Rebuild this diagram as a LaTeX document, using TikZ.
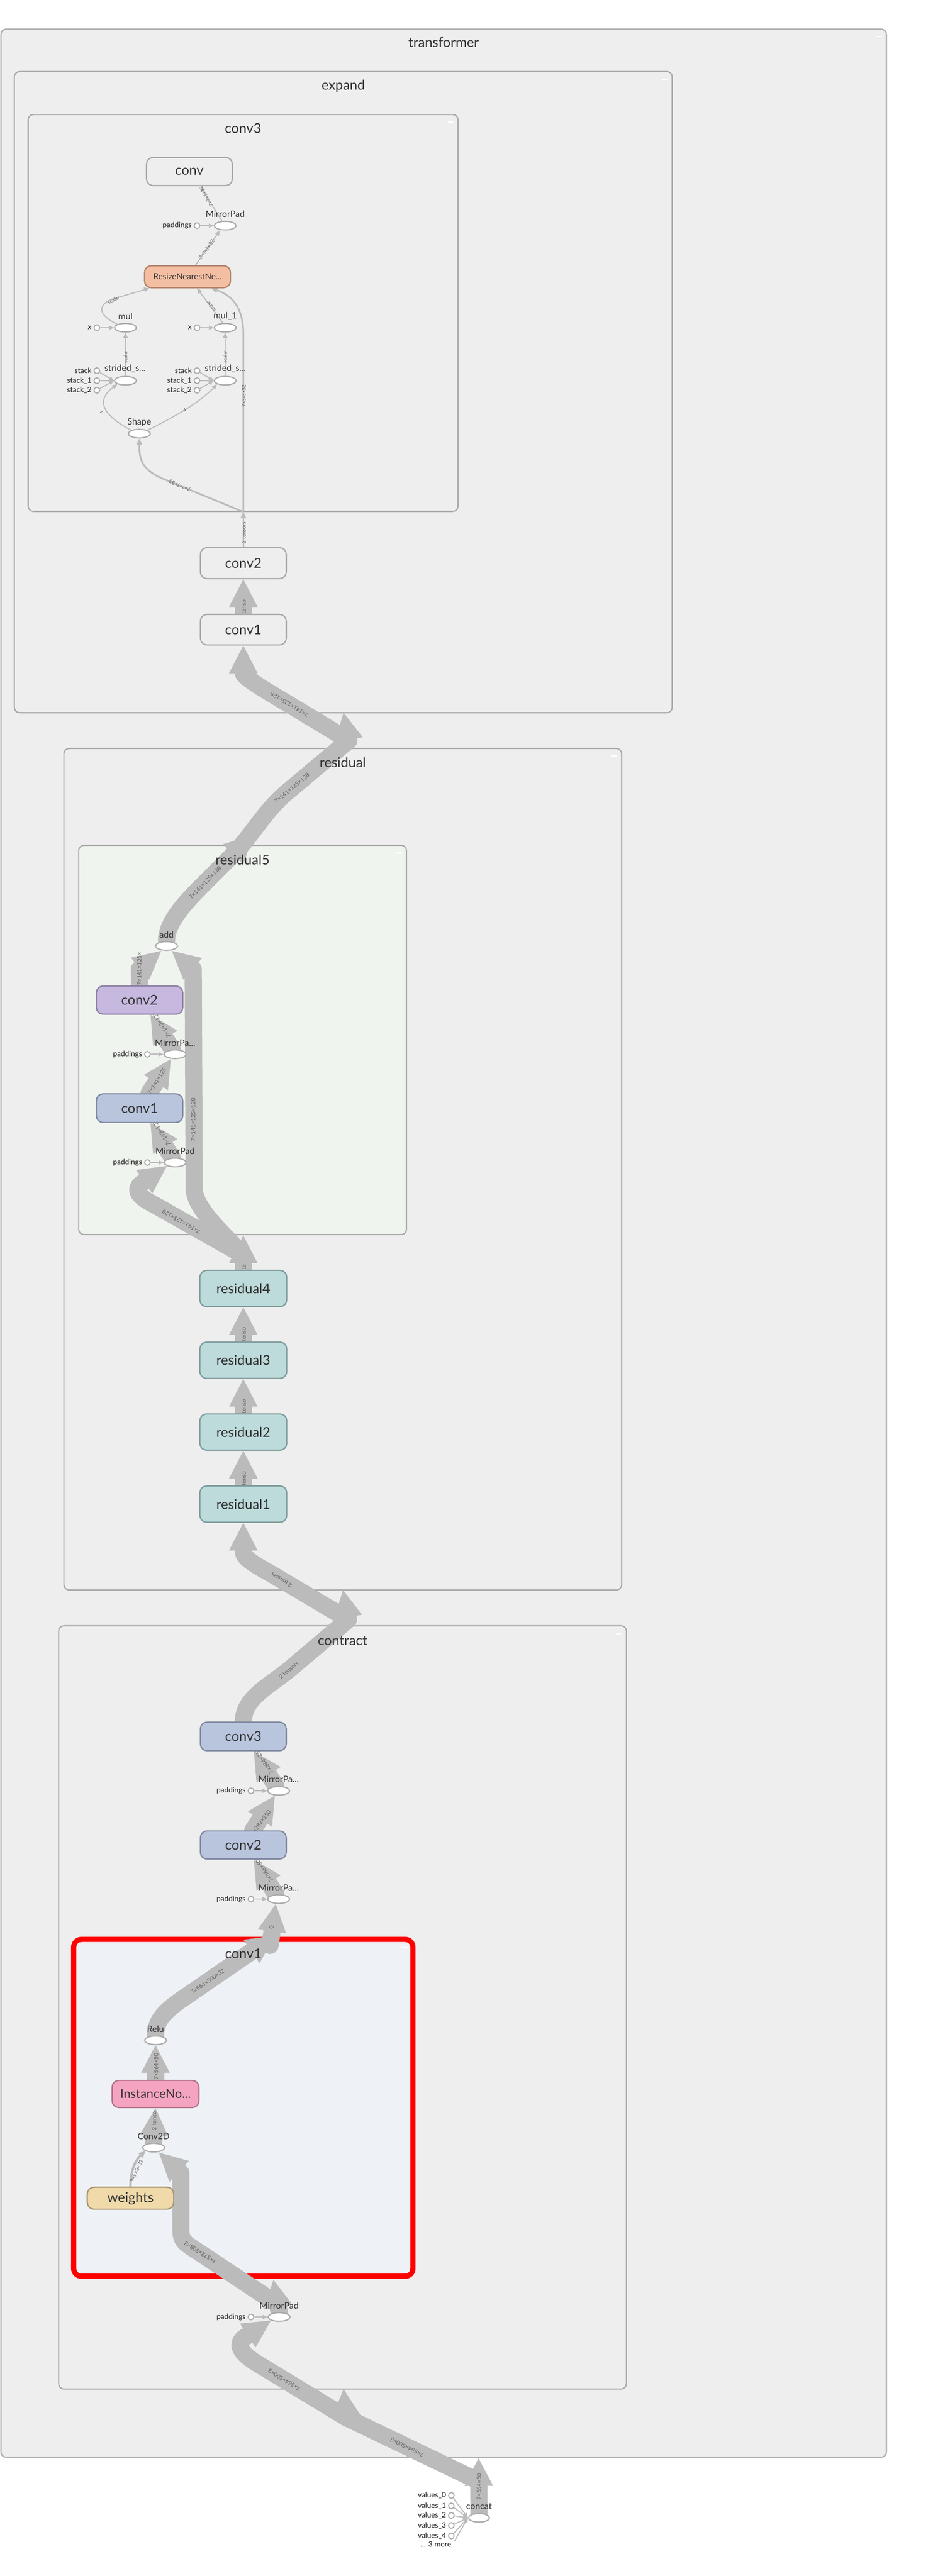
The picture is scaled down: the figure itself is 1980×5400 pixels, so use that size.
\documentclass[tikz,border=0pt]{standalone}
\usepackage{fontspec}
\setmainfont{Lato}
\usetikzlibrary{arrows.meta,shapes.geometric}
\pgfdeclarelayer{grp}
\pgfdeclarelayer{edges}
\pgfdeclarelayer{labels}
\pgfsetlayers{grp,edges,labels,main}
\definecolor{grpfill}{HTML}{EEEEEE}
\definecolor{grpline}{HTML}{A8A8A8}
\definecolor{resfill}{HTML}{F0F4EE}
\definecolor{redfill}{HTML}{EEF1F5}
\definecolor{redline}{HTML}{FF0000}
\definecolor{edgecol}{HTML}{BBBBBB}
\definecolor{txt}{HTML}{333333}
\definecolor{labtxt}{HTML}{5E5E5E}
\definecolor{inptxt}{HTML}{1E1E1E}
\definecolor{ellline}{HTML}{ABABAB}
\definecolor{tealfill}{HTML}{BEDBDB}
\definecolor{tealline}{HTML}{7F9C9C}
\definecolor{bluefill}{HTML}{B9C5DD}
\definecolor{blueline}{HTML}{7F8AA1}
\definecolor{purfill}{HTML}{C7B8E0}
\definecolor{purline}{HTML}{8C7FA3}
\definecolor{pinkfill}{HTML}{F4A4C0}
\definecolor{pinkline}{HTML}{B07286}
\definecolor{wtfill}{HTML}{F0DAAA}
\definecolor{wtline}{HTML}{A89470}
\definecolor{rsfill}{HTML}{F4BEA2}
\definecolor{rsline}{HTML}{B08068}
\begin{document}
\begin{tikzpicture}[x=1pt,y=-1pt,
  grp/.style={draw=grpline, line width=2.5pt, fill=grpfill, rounded corners=11pt, inner sep=0pt, outer sep=0pt},
  grptitle/.style={text=txt, font=\fontsize{28.5}{30}\selectfont, inner sep=0pt},
  opbox/.style={draw=grpline, line width=2.6pt, fill=grpfill, rounded corners=14pt, minimum width=180pt, inner sep=0pt, text=txt, font=\fontsize{28.5}{30}\selectfont},
  opnode/.style={ellipse, draw=ellline, fill=white, line width=2.5pt, minimum width=46pt, minimum height=18pt, inner sep=0pt},
  oplab/.style={text=txt, font=\fontsize{18.5}{20}\selectfont, inner sep=0pt},
  innode/.style={circle, draw=ellline, fill=white, line width=2.2pt, minimum size=12pt, inner sep=0pt},
  inlab/.style={text=inptxt, font=\fontsize{15.5}{17}\selectfont, inner sep=0pt, anchor=east},
  elab/.style={text=labtxt, font=\fontsize{12}{12}\selectfont, inner sep=0pt},
  elabs/.style={text=labtxt, font=\fontsize{11}{11}\selectfont, inner sep=0pt},
  bandline/.style={draw=edgecol, line width=36pt, line join=round, line cap=round},
  bandarrow/.style={bandline, -{Triangle[length=58pt,width=60pt,line width=0pt]}},
  medarrow/.style={draw=edgecol, line width=3.5pt, -{Triangle[length=13pt,width=12pt,line width=0pt]}},
  thinarrow/.style={draw=edgecol, line width=2.2pt, -{Triangle[length=11pt,width=10pt,line width=0pt]}},
  inarrow/.style={draw=edgecol, line width=2.2pt, -{Triangle[length=10pt,width=9pt,line width=0pt]}},
  wtarrow/.style={draw=edgecol, line width=5pt, -{Triangle[length=14pt,width=14pt,line width=0pt]}},
  collapsemark/.style={draw=white, line width=2.5pt}
]
\useasboundingbox (0,0) rectangle (1980,5400);

% ---------------- groups ----------------
\begin{pgfonlayer}{grp}
\fill[white] (0,0) rectangle (1980,5400);
\node[grp, minimum width=1856pt, minimum height=5090pt] (transformer) at (930,2606) {};
\node[grp, minimum width=1379pt, minimum height=1344pt] (expand) at (719.5,822) {};
\node[grp, minimum width=901pt, minimum height=832pt] (conv3g) at (509.5,656) {};
\node[grp, minimum width=1169pt, minimum height=1764pt] (residual) at (718.5,2451) {};
\node[grp, fill=resfill, minimum width=687pt, minimum height=816pt] (residual5) at (508.5,2180) {};
\node[grp, minimum width=1190pt, minimum height=1600pt] (contract) at (718,4208) {};
\node[grp, fill=redfill, draw=redline, line width=11pt, rounded corners=16pt, minimum width=711pt, minimum height=706pt] (conv1g) at (510,4418.5) {};
\draw[collapsemark] (1836,77) -- (1849,77);
\draw[collapsemark] (1387,166) -- (1400,166);
\draw[collapsemark] (938,256) -- (951,256);
\draw[collapsemark] (1281,1585) -- (1294,1585);
\draw[collapsemark] (830,1788) -- (843,1788);
\draw[collapsemark] (1291,3424) -- (1304,3424);
\draw[collapsemark] (840,4082) -- (854,4082);
\end{pgfonlayer}

% ---------------- nodes: expand / conv3 ----------------
\node[opbox, minimum height=59pt] (conv) at (397,359.5) {conv};
\node[opbox, fill=rsfill, draw=rsline, minimum height=46pt, font=\fontsize{17.5}{20}\selectfont] (resize) at (393,580) {ResizeNearestNe...};
\node[opnode] (mpad3) at (472,473) {};
\node[opnode] (mul) at (263,687) {};
\node[opnode] (mul1) at (472,687) {};
\node[opnode] (ss) at (263,798) {};
\node[opnode] (ss1) at (472,798) {};
\node[opnode] (shape) at (292,909) {};
\node[oplab] (lmpad3) at (472,449) {MirrorPad};
\node[oplab] (lmul) at (263,663) {mul};
\node[oplab] (lmul1) at (472,663) {mul\_1};
\node[oplab] (lss) at (262,773) {strided\_s...};
\node[oplab] (lss1) at (472,773) {strided\_s...};
\node[oplab] (lshape) at (292,885) {Shape};
\node[innode] (pad3) at (413,473) {};
\node[inlab] (lpad3) at (402,473) {paddings};
\node[innode] (xm) at (203,687) {};
\node[inlab] (lxm) at (192,687) {x};
\node[innode] (xm1) at (413,687) {};
\node[inlab] (lxm1) at (402,687) {x};
\node[innode] (stA) at (203,777) {};
\node[innode] (stB) at (203,798) {};
\node[innode] (stC) at (203,818) {};
\node[inlab] (lstA) at (192,777) {stack};
\node[inlab] (lstB) at (192,798) {stack\_1};
\node[inlab] (lstC) at (192,818) {stack\_2};
\node[innode] (stD) at (413,777) {};
\node[innode] (stE) at (413,798) {};
\node[innode] (stF) at (413,818) {};
\node[inlab] (lstD) at (402,777) {stack};
\node[inlab] (lstE) at (402,798) {stack\_1};
\node[inlab] (lstF) at (402,818) {stack\_2};
\node[opbox, minimum height=65pt] (conv2e) at (510,1180.5) {conv2};
\node[opbox, minimum height=64pt] (conv1e) at (510,1320) {conv1};

% ---------------- nodes: residual ----------------
\node[opnode] (add) at (349,1983) {};
\node[oplab] (ladd) at (349,1959) {add};
\node[opbox, fill=purfill, draw=purline, minimum width=181pt, minimum height=59pt] (r5conv2) at (292.5,2096.5) {conv2};
\node[opnode] (r5mp1) at (367,2210) {};
\node[oplab] (lr5mp1) at (367,2186) {MirrorPa...};
\node[innode] (r5pad1) at (309,2210) {};
\node[inlab] (lr5pad1) at (298,2210) {paddings};
\node[opbox, fill=bluefill, draw=blueline, minimum width=181pt, minimum height=60pt] (r5conv1) at (292.5,2323) {conv1};
\node[opnode] (r5mp) at (367,2437) {};
\node[oplab] (lr5mp) at (367,2413) {MirrorPad};
\node[innode] (r5pad) at (309,2437) {};
\node[inlab] (lr5pad) at (298,2437) {paddings};
\node[opbox, fill=tealfill, draw=tealline, minimum width=182pt, minimum height=76pt] (residual4) at (510,2701) {residual4};
\node[opbox, fill=tealfill, draw=tealline, minimum width=182pt, minimum height=76pt] (residual3) at (510,2851.5) {residual3};
\node[opbox, fill=tealfill, draw=tealline, minimum width=182pt, minimum height=76pt] (residual2) at (510,3002) {residual2};
\node[opbox, fill=tealfill, draw=tealline, minimum width=182pt, minimum height=76pt] (residual1) at (510,3153) {residual1};

% ---------------- nodes: contract ----------------
\node[opbox, fill=bluefill, draw=blueline, minimum height=60pt] (cconv3) at (510,3640) {conv3};
\node[opnode] (cmp2) at (584,3754) {};
\node[oplab] (lcmp2) at (584,3730) {MirrorPa...};
\node[innode] (cpad2) at (526,3754) {};
\node[inlab] (lcpad2) at (515,3754) {paddings};
\node[opbox, fill=bluefill, draw=blueline, minimum height=59pt] (cconv2) at (510,3867.5) {conv2};
\node[opnode] (cmp1) at (584,3981) {};
\node[oplab] (lcmp1) at (584,3957) {MirrorPa...};
\node[innode] (cpad1) at (526,3981) {};
\node[inlab] (lcpad1) at (515,3981) {paddings};
\node[opnode] (relu) at (326,4277) {};
\node[oplab] (lrelu) at (326,4253) {Relu};
\node[opbox, fill=pinkfill, draw=pinkline, minimum width=182pt, minimum height=57pt, font=\fontsize{26}{28}\selectfont] (inorm) at (326,4389.5) {InstanceNo...};
\node[opnode] (conv2d) at (322,4502) {};
\node[oplab] (lconv2d) at (322,4478) {Conv2D};
\node[opbox, fill=wtfill, draw=wtline, minimum width=181pt, minimum height=46pt] (weights) at (273.5,4608) {weights};
\node[opnode] (cmp) at (585,4857) {};
\node[oplab] (lcmp) at (585,4833) {MirrorPad};
\node[innode] (cpad) at (526,4857) {};
\node[inlab] (lcpad) at (515,4857) {paddings};

% ---------------- nodes: concat ----------------
\node[opnode, minimum width=44pt] (concat) at (1004,5278) {};
\node[oplab] (lconcat) at (1004,5254) {concat};
\node[innode] (v0) at (946,5231) {};
\node[innode] (v1) at (946,5253) {};
\node[innode] (v2) at (946,5273) {};
\node[innode] (v3) at (946,5294) {};
\node[innode] (v4) at (946,5316) {};
\node[inlab] (lv0) at (935,5231) {values\_0};
\node[inlab] (lv1) at (935,5253) {values\_1};
\node[inlab] (lv2) at (935,5273) {values\_2};
\node[inlab] (lv3) at (935,5294) {values\_3};
\node[inlab] (lv4) at (935,5316) {values\_4};
\node[inlab] (lvmore) at (946,5333) {... 3 more};
\coordinate (vmore) at (953,5326);

% ---------------- coordinates at group borders ----------------
\coordinate (b3) at (510,1073);
\coordinate (T1) at (720,1494);
\coordinate (J1) at (731,1552);
\coordinate (K) at (530,1750);
\coordinate (Kb) at (489,1791);
\coordinate (T3) at (510,2590);
\coordinate (J3) at (505,2628);
\coordinate (T2) at (719,3333);
\coordinate (J2) at (730,3395);
\coordinate (T7) at (575,4058);
\coordinate (J7) at (566,4078);
\coordinate (T6) at (573,4779);
\coordinate (J6) at (584,4832);
\coordinate (T5) at (720,5008);
\coordinate (J5) at (726,5068);
\coordinate (T4) at (1003,5153);
\coordinate (J4) at (1001,5200);

% ---------------- edges ----------------
\begin{pgfonlayer}{edges}
% conv3 internals
\draw[thinarrow] ([xshift=-7pt]mpad3.north) -- ([xshift=23pt]conv.south);
\draw[thinarrow] ([xshift=17pt]resize.north) -- ([xshift=-11pt]mpad3.south);
\draw[thinarrow] (mul.north west) .. controls (215,665) and (198,645) .. (232,628) -- ([xshift=-80pt]resize.south);
\draw[thinarrow] ([xshift=-5pt]mul1.north) -- ([xshift=20pt]resize.south);
\draw[thinarrow] (ss.north) -- (mul.south);
\draw[thinarrow] (ss1.north) -- (mul1.south);
\draw[thinarrow] (shape.north west) .. controls (215,870) and (200,840) .. (ss.south west);
\draw[thinarrow] (shape.north east) .. controls (370,872) and (420,842) .. (ss1.south west);
\draw[medarrow] (b3) -- (340,1003) .. controls (298,984) and (292,965) .. (shape.south);
\draw[medarrow] (b3) -- (510,700) .. controls (510,640) and (482,618) .. ([xshift=50pt]resize.south);
\draw[inarrow] (pad3) -- (mpad3.west);
\draw[inarrow] (xm) -- (mul.west);
\draw[inarrow] (xm1) -- (mul1.west);
\draw[inarrow] (stA) -- (ss.west);
\draw[inarrow] (stB) -- (ss.west);
\draw[inarrow] (stC) -- (ss.west);
\draw[inarrow] (stD) -- (ss1.west);
\draw[inarrow] (stE) -- (ss1.west);
\draw[inarrow] (stF) -- (ss1.west);
% expand
\draw[medarrow] (conv2e.north) -- (b3);
\draw[bandarrow] (conv1e.north) -- (conv2e.south);
\draw[bandarrow] (add.north) .. controls (349,1935) and (385,1895) .. (423,1857) -- (K);
\draw[bandarrow] (Kb) .. controls (525,1755) and (555,1700) .. (600,1662) -- (J1) -- (565,1452) .. controls (515,1422) and (510,1414) .. (510,1411) -- (conv1e.south);
\draw[bandarrow] (J1) -- (T1);
% residual5
\draw[bandarrow] (residual4.north) -- (T3);
\draw[bandarrow] (J3) -- (310,2518) .. controls (285,2503) and (282,2490) .. (301,2478) -- (r5mp.south west);
\draw[bandarrow] (J3) .. controls (470,2585) and (407,2535) .. (407,2490) -- (405,2032) -- ([xshift=11pt]add.south);
\draw[bandarrow] (r5conv2.north) -- (292,2032) -- ([xshift=-11pt]add.south);
\draw[bandarrow] ([xshift=-6pt]r5mp.north) -- ([xshift=23pt]r5conv1.south);
\draw[bandarrow] ([xshift=20pt]r5conv1.north) -- ([xshift=-9pt]r5mp1.south);
\draw[bandarrow] ([xshift=-6pt]r5mp1.north) -- ([xshift=23pt]r5conv2.south);
\draw[inarrow] (r5pad1) -- (r5mp1.west);
\draw[inarrow] (r5pad) -- (r5mp.west);
% residual chain
\draw[bandarrow] (residual3.north) -- (residual4.south);
\draw[bandarrow] (residual2.north) -- (residual3.south);
\draw[bandarrow] (residual1.north) -- (residual2.south);
\draw[bandarrow] (J2) -- (570,3300) .. controls (515,3270) and (510,3262) .. (510,3250) -- (residual1.south);
\draw[bandarrow] (J2) -- (T2);
% contract
\draw[bandline] (cconv3.north) .. controls (511,3560) and (560,3537) .. (605,3501) -- (J2);
\draw[bandarrow] ([xshift=-6pt]cmp2.north) -- ([xshift=22pt]cconv3.south);
\draw[bandarrow] ([xshift=20pt]cconv2.north) -- ([xshift=-8pt]cmp2.south);
\draw[bandarrow] ([xshift=-6pt]cmp1.north) -- ([xshift=22pt]cconv2.south);
\draw[inarrow] (cpad2) -- (cmp2.west);
\draw[inarrow] (cpad1) -- (cmp1.west);
\draw[bandarrow] (relu.north) .. controls (326,4235) and (345,4215) .. (390,4185) -- (T7);
\draw[bandarrow] (J7) -- ([xshift=-6pt]cmp1.south);
\draw[bandarrow] (inorm.north) -- (relu.south);
\draw[bandarrow] (conv2d.north) -- (inorm.south);
\draw[wtarrow] (weights.north) .. controls (273,4550) and (285,4527) .. (conv2d.south west);
\draw[bandarrow] (cmp.north) -- (T6);
\draw[bandarrow] (J6) -- (400,4710) .. controls (380,4697) and (379,4690) .. (379,4665) -- (379,4555) -- ([xshift=11pt]conv2d.south);
\draw[inarrow] (cpad) -- (cmp.west);
% concat
\draw[bandarrow] (concat.north) -- (T4);
\draw[bandline] (J4) -- (J5);
\draw[bandarrow] (J5) -- (T5);
\draw[bandarrow] (J5) -- (540,4955) .. controls (495,4928) and (495,4908) .. (519,4896) -- (cmp.south west);
\draw[inarrow] (v0) -- (concat.west);
\draw[inarrow] (v1) -- (concat.west);
\draw[inarrow] (v2) -- (concat.west);
\draw[inarrow] (v3) -- (concat.west);
\draw[inarrow] (v4) -- (concat.west);
\draw[inarrow] (vmore) -- (concat.west);
\end{pgfonlayer}

% ---------------- edge labels and group titles ----------------
\begin{pgfonlayer}{labels}
\node[elabs, rotate=121] (e1) at (432,412) {7×?×?×32};
\node[elabs, rotate=55] (e2) at (433,523) {7×?×?×32};
\node[elabs, font=\fontsize{10}{10}\selectfont, rotate=25] (e3) at (238,629) {scalar};
\node[elabs, font=\fontsize{10}{10}\selectfont, rotate=127] (e4) at (443,643) {scalar};
\node[elabs, font=\fontsize{10}{10}\selectfont, rotate=90] (e5) at (263,748) {scalar};
\node[elabs, font=\fontsize{10}{10}\selectfont, rotate=90] (e6) at (472,748) {scalar};
\node[elabs, rotate=115] (e7) at (214,864) {4};
\node[elabs, rotate=32] (e8) at (387,860) {4};
\node[elabs, rotate=157] (e9) at (377,1018) {7×?×?×32};
\node[elabs, rotate=90] (e10) at (511,830) {7×?×?×32};
\node[elabs, rotate=90] (e11) at (511,1117) {2 tensors};
\node[elab, rotate=90, anchor=west] (e12) at (511,1297) {2 tenso};
\node[elab, rotate=149] (e13) at (607,1477) {7×141×125×128};
\node[elab, rotate=40] (e14) at (612,1652) {7×141×125×128};
\node[elab, rotate=46] (e15) at (430,1850) {7×141×125×128};
\node[elab, rotate=90, anchor=west] (e16) at (292,2066) {7×141×125×};
\node[elab, rotate=90] (e17) at (405,2347) {7×141×125×128};
\node[elab, rotate=122, anchor=west] (e18) at (355,2175) {7×143×127};
\node[elab, rotate=58, anchor=west] (e19) at (312,2293) {7×141×125};
\node[elab, rotate=122, anchor=west] (e20) at (355,2402) {7×143×127};
\node[elab, rotate=150] (e21) at (380,2561) {7×141×125×128};
\node[elab, rotate=90, anchor=west] (e22) at (511,2672) {2 te};
\node[elab, rotate=90, anchor=west] (e23) at (511,2822) {2 tenso};
\node[elab, rotate=90, anchor=west] (e24) at (511,2973) {2 tenso};
\node[elab, rotate=90, anchor=west] (e25) at (511,3124) {2 tenso};
\node[elab, rotate=148] (e26) at (590,3312) {2 tensors};
\node[elab, rotate=40] (e27) at (605,3501) {2 tensors};
\node[elab, rotate=124, anchor=west] (e28) at (570,3718) {7×284×252};
\node[elab, rotate=53, anchor=west] (e29) at (527,3846) {7×282×250};
\node[elab, rotate=124, anchor=west] (e30) at (570,3945) {7×566×502};
\node[elab, rotate=95] (e31) at (569,4040) {0};
\node[elab, rotate=35] (e32) at (435,4154) {7×564×500×32};
\node[elab, rotate=90, anchor=west] (e33) at (327,4360) {7×564×50};
\node[elab, rotate=90, anchor=west] (e34) at (323,4466) {2 tenso};
\node[elabs, rotate=65] (e35) at (286,4551) {9×9×3×32};
\node[elab, rotate=148] (e36) at (420,4722) {7×572×508×3};
\node[elab, rotate=148.5] (e37) at (596,4989) {7×564×500×3};
\node[elab, rotate=154] (e38) at (853,5130) {7×564×500×3};
\node[elab, rotate=90, anchor=west] (e39) at (1004,5241) {7×564×50};
% titles
\node[grptitle] (ttransformer) at (930,89) {transformer};
\node[grptitle] (texpand) at (719.5,180) {expand};
\node[grptitle] (tconv3) at (509.5,269) {conv3};
\node[grptitle] (tresidual) at (718.5,1598) {residual};
\node[grptitle] (tresidual5) at (508.5,1802) {residual5};
\node[grptitle] (tcontract) at (718,3439) {contract};
\node[grptitle] (tconv1) at (510,4095) {conv1};
\end{pgfonlayer}
\end{tikzpicture}
\end{document}
